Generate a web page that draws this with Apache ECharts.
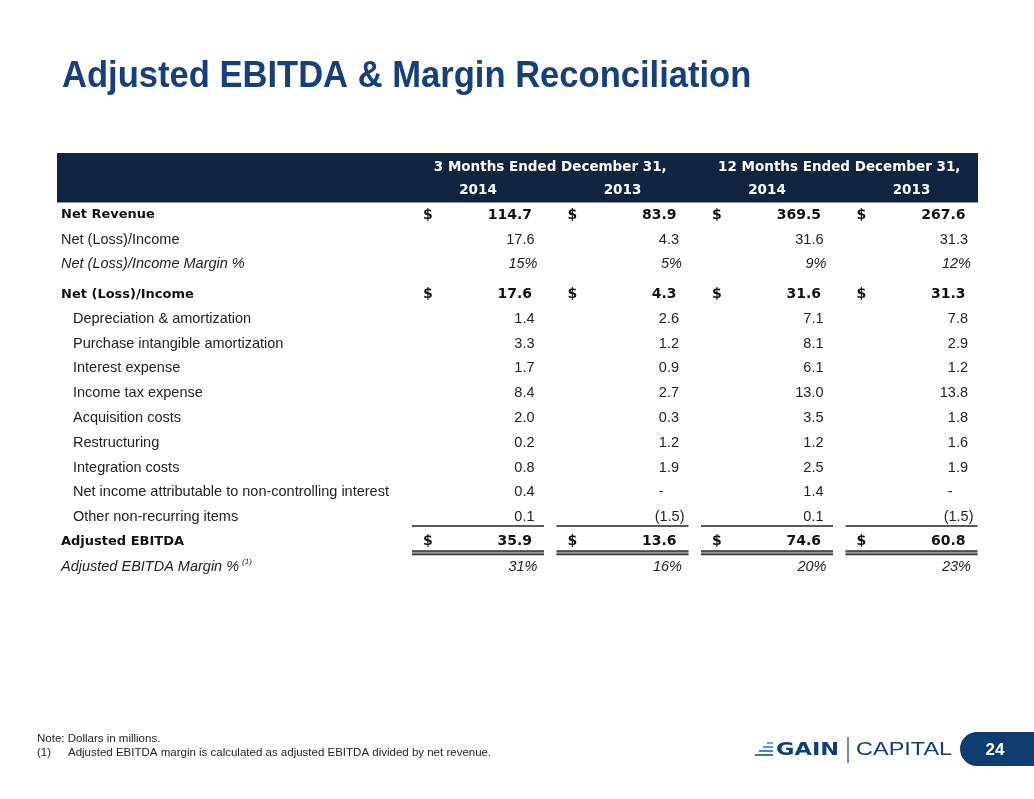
<!DOCTYPE html>
<html lang="en">
<head>
    <meta charset="UTF-8">
    <title>Adjusted EBITDA &amp; Margin Reconciliation</title>
    <script src="https://cdn.jsdelivr.net/npm/echarts@6/dist/echarts.min.js"></script>
    <style>
        html, body { margin: 0; padding: 0; background: #fff; }
        #main { width: 1034px; height: 799px; }
    </style>
</head>
<body>
<div id="main"></div>
<script>
    // table content
    var periodLabels = ['3 Months Ended December 31,', '12 Months Ended December 31,'];
    var yearLabels = ['2014', '2013', '2014', '2013'];
    var rowLabels = [
        'Net Revenue',
        'Net (Loss)/Income',
        'Net (Loss)/Income Margin %',
        'Net (Loss)/Income',
        'Depreciation & amortization',
        'Purchase intangible amortization',
        'Interest expense',
        'Income tax expense',
        'Acquisition costs',
        'Restructuring',
        'Integration costs',
        'Net income attributable to non-controlling interest',
        'Other non-recurring items',
        'Adjusted EBITDA',
        'Adjusted EBITDA Margin %'
    ];
    // total = bold with $, plain, pct = italic percent, item = indented
    var rowKinds = ['total', 'plain', 'pct', 'total', 'item', 'item', 'item', 'item',
        'item', 'item', 'item', 'item', 'item', 'total', 'pct'];
    var q4_2014 = [114.7, 17.6, 15, 17.6, 1.4, 3.3, 1.7, 8.4, 2.0, 0.2, 0.8, 0.4, 0.1, 35.9, 31];
    var q4_2013 = [83.9, 4.3, 5, 4.3, 2.6, 1.2, 0.9, 2.7, 0.3, 1.2, 1.9, null, -1.5, 13.6, 16];
    var fy2014 = [369.5, 31.6, 9, 31.6, 7.1, 8.1, 6.1, 13.0, 3.5, 1.2, 2.5, 1.4, 0.1, 74.6, 20];
    var fy2013 = [267.6, 31.3, 12, 31.3, 7.8, 2.9, 1.2, 13.8, 1.8, 1.6, 1.9, null, -1.5, 60.8, 23];
    var columns = [q4_2014, q4_2013, fy2014, fy2013];

    var NAVY = '#122540';
    var F_BOLD = '"DejaVu Sans", Verdana, sans-serif';
    var F_REG = '"Liberation Sans", Arial, sans-serif';

    // layout of the hidden axes (x in px from the table's left edge, y in rows)
    var COL0 = 355, COL_STEP = 144.5, COL_W = 132;
    function colLeft(j) { return COL0 + COL_STEP * j; }
    function rowPos(i) { return i + (i >= 3 ? 0.2 : 0); }

    function fmt(v, kind) {
        if (v === null) return '-';
        if (kind === 'pct') return v + '%';
        if (v < 0) return '(' + Math.abs(v).toFixed(1) + ')';
        return v.toFixed(1);
    }

    function txt(x, y, s, font, align, color, extra) {
        var st = {
            text: s, font: font, fill: color || '#222',
            align: align || 'left', textAlign: align || 'left',
            verticalAlign: 'middle', textVerticalAlign: 'middle'
        };
        if (extra) for (var k in extra) st[k] = extra[k];
        return {type: 'text', x: x, y: y, style: st};
    }

    var myChart = echarts.init(document.getElementById('main'));

    var option = {
        animation: false,
        grid: {left: 57, right: 56, top: 153, bottom: 220},
        xAxis: {type: 'value', min: 0, max: 921, show: false},
        yAxis: {type: 'value', min: -2.5, max: 14.7, inverse: true, show: false},
        series: [
            {
                // header band
                type: 'custom',
                data: [[0, -1]],
                renderItem: function (params, api) {
                    var tl = api.coord([0, -2.5]);
                    var br = api.coord([921, -0.5]);
                    var ch = [{
                        type: 'rect',
                        shape: {x: tl[0], y: tl[1], width: br[0] - tl[0], height: br[1] - tl[1]},
                        style: {fill: NAVY}
                    }];
                    for (var p = 0; p < 2; p++) {
                        var cx = (colLeft(p * 2) + colLeft(p * 2 + 1) + COL_W) / 2;
                        var pt = api.coord([cx, -1.92]);
                        ch.push(txt(pt[0], pt[1], periodLabels[p], 'bold 13.5px ' + F_BOLD, 'center', '#fff'));
                    }
                    for (var j = 0; j < 4; j++) {
                        var pt2 = api.coord([colLeft(j) + COL_W / 2, -0.97]);
                        ch.push(txt(pt2[0], pt2[1], yearLabels[j], 'bold 13.5px ' + F_BOLD, 'center', '#fff'));
                    }
                    return {type: 'group', children: ch};
                }
            },
            {
                // table rows
                type: 'custom',
                data: rowLabels.map(function (l, i) { return [0, rowPos(i)]; }),
                renderItem: function (params, api) {
                    var i = params.dataIndex;
                    var kind = rowKinds[i];
                    var y = api.coord([0, rowPos(i)])[1];
                    var ch = [];
                    var lx = api.coord([kind === 'item' ? 16 : 4, 0])[0];
                    if (kind === 'total') {
                        ch.push(txt(lx, y, rowLabels[i], 'bold 13px ' + F_BOLD, 'left', '#111'));
                    } else if (kind === 'pct') {
                        if (i === rowLabels.length - 1) {
                            ch.push(txt(lx, y, '{a|' + rowLabels[i] + '}{s|(1)}', 'italic 14.5px ' + F_REG, 'left', '#222', {
                                rich: {
                                    a: {font: 'italic 14.5px ' + F_REG, fill: '#222', lineHeight: 18},
                                    s: {font: 'italic 8px ' + F_REG, fill: '#222', verticalAlign: 'top', padding: [0, 0, 0, 3]}
                                }
                            }));
                        } else {
                            ch.push(txt(lx, y, rowLabels[i], 'italic 14.5px ' + F_REG, 'left', '#222'));
                        }
                    } else {
                        ch.push(txt(lx, y, rowLabels[i], '14.5px ' + F_REG, 'left', '#222'));
                    }
                    for (var j = 0; j < 4; j++) {
                        var v = columns[j][i];
                        var left = colLeft(j), right = colLeft(j) + COL_W;
                        if (kind === 'total') {
                            var dx = api.coord([left + 11, 0])[0];
                            ch.push(txt(dx, y, '$', 'bold 14px ' + F_BOLD, 'left', '#111'));
                            var vx = api.coord([right - 12, 0])[0];
                            ch.push(txt(vx, y, fmt(v, kind), 'bold 14px ' + F_BOLD, 'right', '#111'));
                        } else if (kind === 'pct') {
                            var px = api.coord([right - 6.5, 0])[0];
                            ch.push(txt(px, y, fmt(v, kind), 'italic 14.5px ' + F_REG, 'right', '#222'));
                        } else {
                            var pad = v === null ? 25 : (v < 0 ? 4 : 9.5);
                            var rx = api.coord([right - pad, 0])[0];
                            ch.push(txt(rx, y, fmt(v, kind), '14.5px ' + F_REG, 'right', '#222'));
                        }
                    }
                    return {type: 'group', children: ch};
                }
            },
            {
                // underlines of the column totals
                type: 'custom',
                data: yearLabels.map(function (y, j) { return [colLeft(j), 13]; }),
                renderItem: function (params, api) {
                    var j = params.dataIndex;
                    var a = api.coord([colLeft(j), 12.56]);
                    var b = api.coord([colLeft(j) + COL_W, 13.57]);
                    var c = api.coord([colLeft(j) + COL_W, 13.71]);
                    return {
                        type: 'group',
                        children: [
                            {type: 'line', shape: {x1: a[0], y1: a[1], x2: b[0], y2: a[1]}, style: {stroke: '#222', lineWidth: 1.5}},
                            {type: 'rect', shape: {x: a[0], y: b[1], width: b[0] - a[0], height: c[1] - b[1]}, style: {fill: '#999'}},
                            {type: 'line', shape: {x1: a[0], y1: b[1], x2: b[0], y2: b[1]}, style: {stroke: '#333', lineWidth: 1.3}},
                            {type: 'line', shape: {x1: a[0], y1: c[1], x2: b[0], y2: c[1]}, style: {stroke: '#333', lineWidth: 1.3}}
                        ]
                    };
                }
            }
        ],
        graphic: [
            // page title
            {type: 'text', x: 62, y: 77, scaleX: 0.96, style: {
                text: 'Adjusted EBITDA & Margin Reconciliation', font: 'bold 36px ' + F_REG, fill: '#173F7B',
                verticalAlign: 'middle', textVerticalAlign: 'middle'}},
            {type: 'text', left: 37, top: 733, style: {text: 'Note: Dollars in millions.', font: '11.5px ' + F_REG, fill: '#222'}},
            {type: 'text', left: 37, top: 747, style: {text: '(1)', font: '11.5px ' + F_REG, fill: '#222'}},
            {type: 'text', left: 68, top: 747, style: {text: 'Adjusted EBITDA margin is calculated as adjusted EBITDA divided by net revenue.', font: '11.5px ' + F_REG, fill: '#222'}},
            // logo
            {type: 'rect', shape: {x: 767, y: 742, width: 6, height: 2}, style: {fill: '#6FA6DE'}},
            {type: 'rect', shape: {x: 763, y: 746, width: 10, height: 2}, style: {fill: '#5896D6'}},
            {type: 'rect', shape: {x: 759, y: 750, width: 14, height: 2}, style: {fill: '#4585CC'}},
            {type: 'rect', shape: {x: 755, y: 754, width: 18, height: 2}, style: {fill: '#3574BE'}},
            {type: 'text', x: 776, y: 750, scaleX: 1.25, style: {text: 'GAIN', font: 'bold 18px ' + F_BOLD, fill: '#123E78', verticalAlign: 'middle', textVerticalAlign: 'middle'}},
            {type: 'line', shape: {x1: 848, y1: 737, x2: 848, y2: 763}, style: {stroke: '#123E78', lineWidth: 1.2}},
            {type: 'text', x: 856, y: 750, scaleX: 1.27, style: {text: 'CAPITAL', font: '18.5px ' + F_REG, fill: '#123E78', verticalAlign: 'middle', textVerticalAlign: 'middle'}},
            {type: 'rect', shape: {x: 960, y: 732, width: 90, height: 34, r: [17, 0, 0, 17]}, style: {fill: '#0F3D72'}},
            {type: 'text', x: 995, y: 750, style: {text: '24', font: 'bold 17px ' + F_REG, fill: '#fff', align: 'center', textAlign: 'center', verticalAlign: 'middle', textVerticalAlign: 'middle'}}
        ]
    };
    myChart.setOption(option);
</script>
</body>
</html>
